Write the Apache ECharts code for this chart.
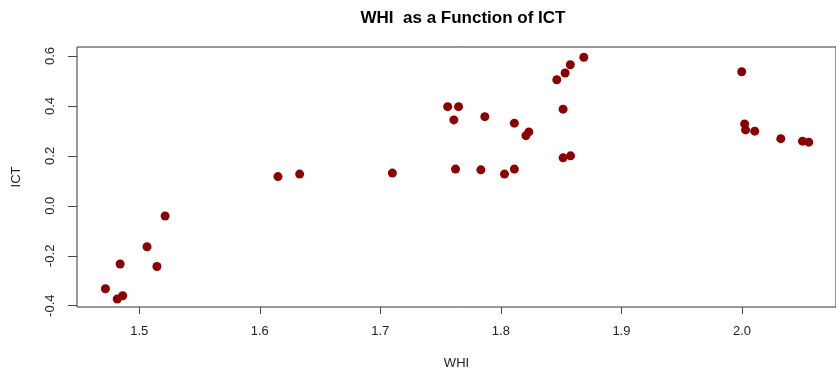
<!DOCTYPE html>
<html>
<head>
<meta charset="utf-8">
<script src="https://cdn.jsdelivr.net/npm/echarts@6/dist/echarts.min.js"></script>
<style>
  html, body { margin: 0; padding: 0; background: #ffffff; }
  #chart { width: 836px; height: 375px; }
</style>
</head>
<body>
<div id="chart"></div>
<script>
// WHI (x) against ICT (y)
const whi = [
  1.472, 1.4818, 1.4863, 1.4842, 1.5065, 1.5147, 1.5215, 1.6151, 1.6331,
  1.710, 1.7559, 1.7649, 1.7610, 1.7624, 1.7867, 1.7834, 1.8030, 1.8112,
  1.8112, 1.8208, 1.8232, 1.8464, 1.8533, 1.8576, 1.8688, 1.8516, 1.8516,
  1.8578, 1.9998, 2.0022, 2.0030, 2.0106, 2.0322, 2.0502, 2.0554
];
const ict = [
  -0.332, -0.373, -0.360, -0.233, -0.164, -0.243, -0.041, 0.117, 0.127,
  0.131, 0.397, 0.397, 0.344, 0.147, 0.357, 0.144, 0.127, 0.147,
  0.331, 0.281, 0.296, 0.505, 0.532, 0.565, 0.595, 0.387, 0.192,
  0.200, 0.537, 0.328, 0.304, 0.299, 0.269, 0.259, 0.255
];
const xTicks = [1.5, 1.6, 1.7, 1.8, 1.9, 2.0];
const yTicks = [-0.4, -0.2, 0.0, 0.2, 0.4, 0.6];

const points = whi.map((w, i) => [w, ict[i]]);
const font = 'Liberation Sans, Arial, sans-serif';

const chart = echarts.init(document.getElementById('chart'), null, { renderer: 'canvas' });
chart.setOption({
  animation: false,
  backgroundColor: '#ffffff',
  title: {
    text: 'WHI  as a Function of ICT',
    left: 458,
    top: 5,
    textAlign: 'center',
    textStyle: { fontFamily: font, fontSize: 17, fontWeight: 'bold', color: '#000' }
  },
  grid: {
    left: 77,
    top: 47,
    width: 769,
    height: 261,
    show: true,
    borderColor: '#333',
    borderWidth: 1,
    backgroundColor: 'transparent'
  },
  xAxis: {
    type: 'value',
    min: 1.4484,
    max: 2.078,
    name: 'WHI',
    nameLocation: 'middle',
    nameGap: 50,
    nameTextStyle: { fontFamily: font, fontSize: 13, color: '#222' },
    splitLine: { show: false },
    axisLine: { show: false, onZero: false },
    axisTick: { show: true, inside: false, length: 7, customValues: xTicks, lineStyle: { color: '#444' } },
    axisLabel: {
      customValues: xTicks,
      margin: 18,
      fontFamily: font, fontSize: 13, color: '#222',
      formatter: v => v.toFixed(1)
    }
  },
  yAxis: {
    type: 'value',
    min: -0.4052,
    max: 0.636,
    name: 'ICT',
    nameLocation: 'middle',
    nameGap: 54,
    nameRotate: 90,
    nameTextStyle: { fontFamily: font, fontSize: 13, color: '#222' },
    splitLine: { show: false },
    axisLine: { show: false, onZero: false },
    axisTick: { show: true, inside: false, length: 9, customValues: yTicks, lineStyle: { color: '#444' } },
    axisLabel: {
      customValues: yTicks,
      rotate: 90,
      margin: 20,
      fontFamily: font, fontSize: 13, color: '#222',
      formatter: v => v.toFixed(1)
    }
  },
  series: [{
    type: 'scatter',
    data: points,
    symbol: 'circle',
    symbolSize: 9,
    itemStyle: { color: '#8b0000', opacity: 1 },
    clip: false
  }]
});
</script>
</body>
</html>
